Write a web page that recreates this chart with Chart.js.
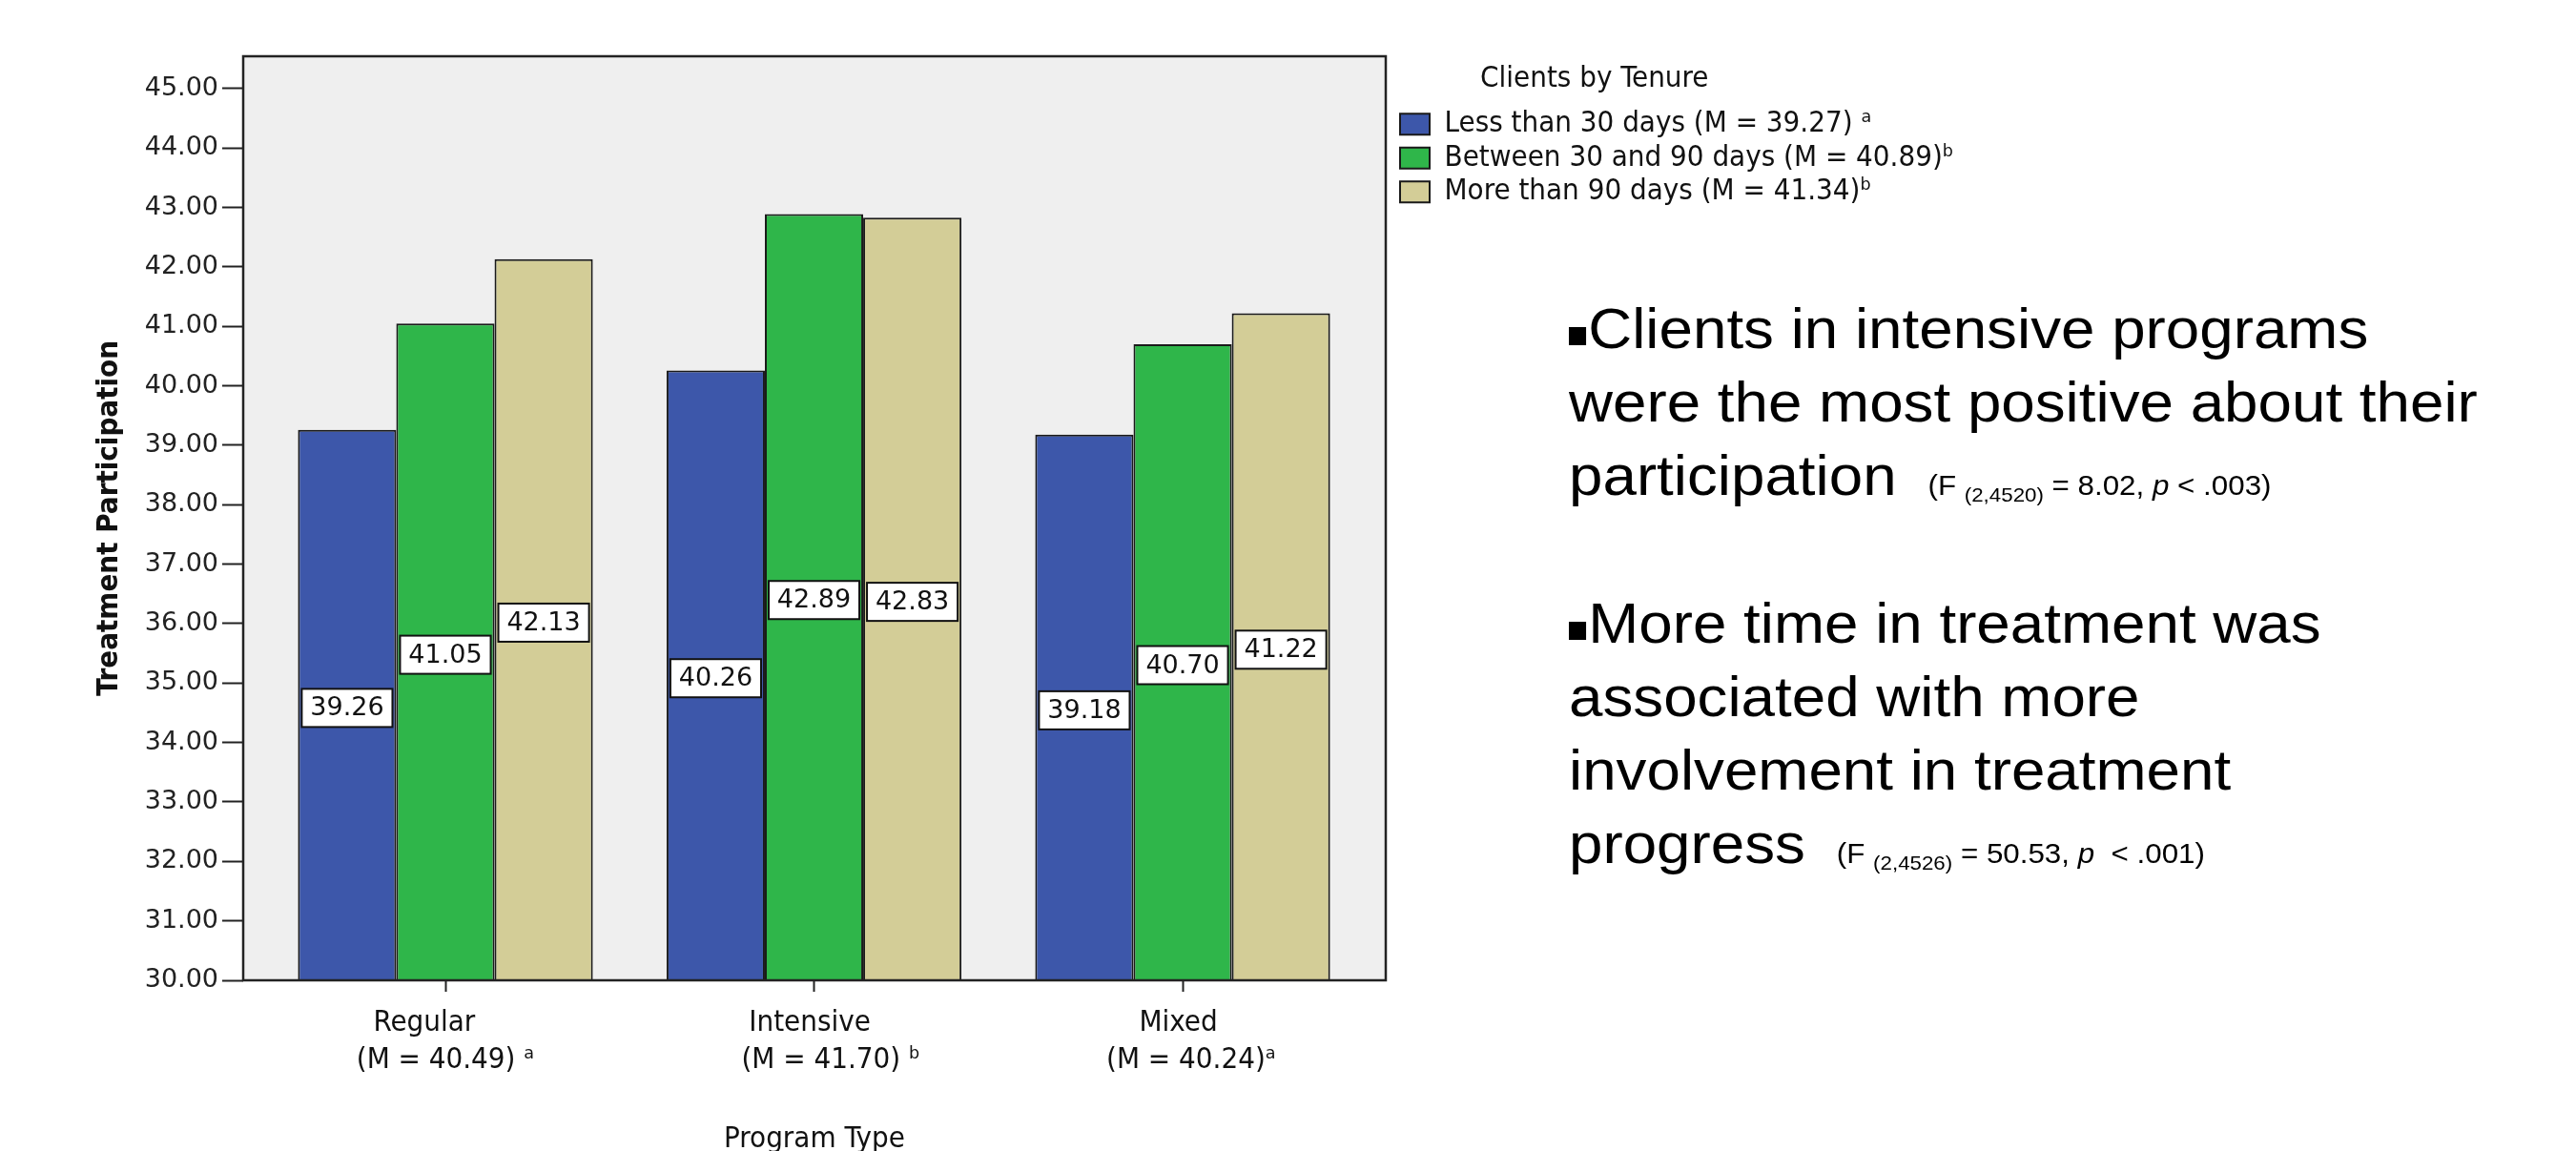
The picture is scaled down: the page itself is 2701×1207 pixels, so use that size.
<!DOCTYPE html>
<html>
<head>
<meta charset="utf-8">
<title>Treatment Participation by Program Type and Client Tenure</title>
<script src="https://cdn.jsdelivr.net/npm/chart.js@4.4.1/dist/chart.umd.min.js"></script>
<style>
  html, body { margin: 0; padding: 0; background: #fff; }
  #wrap { position: relative; width: 2701px; height: 1207px; overflow: hidden; background: #fff; }
  #chart { position: absolute; left: 0; top: 0; }
  #notes {
    position: absolute; left: 1645px; top: 306px;
    font-family: 'Liberation Sans', Arial, sans-serif; font-size: 60px; line-height: 77.2px;
    color: #000; white-space: nowrap;
    transform: scaleX(1.062); transform-origin: 0 0;
  }
  #notes .bullet { display: inline-block; width: 17px; height: 19px; background: #000; margin-right: 2px; vertical-align: 3px; }
  #notes .stat { font-size: 29.5px; line-height: 0; margin-left: 31px; }
  #notes .stat sub { font-size: 21px; vertical-align: -7px; line-height: 0; }
</style>
</head>
<body>
<div id="wrap">
  <canvas id="chart" width="2701" height="1207"></canvas>
  <div id="notes">
    <div><span class="bullet"></span>Clients in intensive programs</div>
    <div>were the most positive about their</div>
    <div>participation<span class="stat">(F <sub>(2,4520)</sub> = 8.02, <i>p</i> &lt; .003)</span></div>
    <div>&nbsp;</div>
    <div><span class="bullet"></span>More time in treatment was</div>
    <div>associated with more</div>
    <div>involvement in treatment</div>
    <div>progress<span class="stat">(F <sub>(2,4526)</sub> = 50.53, <i>p</i>&nbsp; &lt; .001)</span></div>
  </div>
</div>
<script>
// Program types (x categories) and their marginal means
const programs = ['Regular', 'Intensive', 'Mixed'];
const programMeans = ['(M = 40.49) ᵃ', '(M = 41.70) ᵇ', '(M = 40.24)ᵃ'];

// Tenure groups (series) with their marginal means
const tenureGroups = [
  'Less than 30 days (M = 39.27) ᵃ',
  'Between 30 and 90 days (M = 40.89)ᵇ',
  'More than 90 days (M = 41.34)ᵇ'
];

// Mean treatment participation per program type, one array per tenure group
const lessThan30 = [39.26, 40.26, 39.18];
const between30and90 = [41.05, 42.89, 40.70];
const moreThan90 = [42.13, 42.83, 41.22];

// Value-axis ticks
const yTicks = [30, 31, 32, 33, 34, 35, 36, 37, 38, 39, 40, 41, 42, 43, 44, 45];

// ---- styling ----
const CANVAS_W = 2701;
const PLOT_RIGHT = 1453;     // right edge of the plotting field
const LEGEND_X = 1468;       // left edge of the legend swatches
const LEGEND_PAD = 4.5;
const SPSS_FONT = "'DejaVu Sans Condensed', 'DejaVu Sans', sans-serif";
const INK = '#111';
const seriesColors = ['#3D57AA', '#2FB64A', '#D3CD97'];
const seriesValues = [lessThan30, between30and90, moreThan90];

// spaces added after (+) or before (-) each category label line to nudge it
const labelNudge = [[5, 0], [1, -4], [1, -2]];
const nudge = (s, n) => n > 0 ? s + ' '.repeat(n) : ' '.repeat(-n) + s;

// empty spacer axes used to pin the legend beside the plotting field
const spacer = (weight, widthFn) => ({
  type: 'linear', position: 'right', weight, display: true,
  afterFit: s => { s.width = Math.max(0, widthFn(s)); },
  grid: { display: false }, ticks: { display: false }, border: { display: false }
});

// grey plotting field and its dark frame
const plotFrame = {
  id: 'plotFrame',
  beforeDatasetsDraw(chart) {
    const { ctx, chartArea: a } = chart;
    ctx.save();
    ctx.fillStyle = '#EFEFEF';
    ctx.fillRect(a.left, a.top, a.right - a.left, a.bottom - a.top);
    ctx.restore();
  },
  afterDatasetsDraw(chart) {
    const { ctx, chartArea: a } = chart;
    ctx.save();
    ctx.strokeStyle = '#222';
    ctx.lineWidth = 2.5;
    ctx.strokeRect(a.left, a.top, a.right - a.left, a.bottom - a.top);
    ctx.restore();
  }
};

// boxed value labels centred halfway up each bar
const valueBoxes = {
  id: 'valueBoxes',
  afterDatasetsDraw(chart) {
    const { ctx } = chart;
    const yScale = chart.scales.y;
    ctx.save();
    chart.data.datasets.forEach((ds, di) => {
      const meta = chart.getDatasetMeta(di);
      meta.data.forEach((bar, i) => {
        const v = ds.data[i].y;
        const cy = yScale.getPixelForValue((yScale.min + v) / 2) + 3;
        const w = bar.width - 8, h = 40;
        ctx.fillStyle = '#fff';
        ctx.fillRect(bar.x - w / 2, cy - h / 2, w, h);
        ctx.lineWidth = 2;
        ctx.strokeStyle = INK;
        ctx.strokeRect(bar.x - w / 2, cy - h / 2, w, h);
        ctx.font = "27px 'DejaVu Sans', sans-serif";
        ctx.textAlign = 'center';
        ctx.textBaseline = 'middle';
        ctx.fillStyle = INK;
        ctx.fillText(v.toFixed(2), bar.x, cy + 1);
      });
    });
    ctx.restore();
  }
};

new Chart(document.getElementById('chart'), {
  type: 'bar',
  data: {
    datasets: tenureGroups.map((name, k) => ({
      label: name,
      data: seriesValues[k].map((v, i) => ({ x: i, y: v })),
      backgroundColor: seriesColors[k],
      borderColor: '#1A1A1A',
      borderWidth: 2,
      categoryPercentage: 0.8,
      barPercentage: 1.0
    }))
  },
  options: {
    responsive: false,
    animation: false,
    devicePixelRatio: 1,
    layout: { padding: { left: 0, top: 59, right: 0, bottom: 0 } },
    scales: {
      x: {
        type: 'linear',
        min: -0.5485,
        max: 2.551,
        offset: false,
        afterBuildTicks: s => { s.ticks = programs.map((_, i) => ({ value: i })); },
        afterFit: s => { s.height = 179; },
        grid: { offset: false, drawOnChartArea: false, drawTicks: true, tickLength: 12, tickWidth: 2, tickColor: '#222' },
        border: { display: false },
        ticks: {
          autoSkip: false, maxRotation: 0, padding: 13, color: INK,
          font: { family: SPSS_FONT, size: 31, lineHeight: 39 / 31 },
          callback: v => {
            const i = Math.round(v);
            return [nudge(programs[i], labelNudge[i][0]), nudge(programMeans[i], labelNudge[i][1])];
          }
        },
        title: {
          display: true, text: 'Program Type', color: INK,
          font: { family: SPSS_FONT, size: 31, lineHeight: 0.8 },
          padding: { top: 0, bottom: 0 }
        }
      },
      y: {
        min: 30,
        max: 45.545,
        afterBuildTicks: s => { s.ticks = yTicks.map(v => ({ value: v })); },
        afterFit: s => { s.width = 255; },
        grid: { drawOnChartArea: false, drawTicks: true, tickLength: 22, tickWidth: 2, tickColor: '#222' },
        border: { display: false },
        ticks: {
          padding: 4, color: '#222',
          font: { family: "'DejaVu Sans', sans-serif", size: 27 },
          callback: v => Number(v).toFixed(2)
        },
        title: {
          display: true, text: 'Treatment Participation', color: INK,
          font: { family: SPSS_FONT, size: 31, weight: 'bold', lineHeight: 1 },
          padding: { top: 99, bottom: 0 }
        }
      },
      legendLead: spacer(0, () => LEGEND_X - LEGEND_PAD - PLOT_RIGHT),
      legendTail: spacer(2000, s => {
        const lg = s.chart.legend;
        return CANVAS_W - (LEGEND_X - LEGEND_PAD) - (lg ? lg.width : 0);
      })
    },
    plugins: {
      legend: {
        position: 'right',
        align: 'start',
        maxWidth: 1200,
        title: {
          display: true, text: '          Clients by Tenure', position: 'start', color: INK,
          font: { family: SPSS_FONT, size: 31, lineHeight: 1.2 },
          padding: { top: 8, bottom: 6 }
        },
        labels: {
          boxWidth: 31, boxHeight: 22, padding: LEGEND_PAD, color: INK,
          font: { family: SPSS_FONT, size: 31 }
        }
      },
      tooltip: { enabled: false }
    }
  },
  plugins: [plotFrame, valueBoxes]
});
</script>
</body>
</html>
